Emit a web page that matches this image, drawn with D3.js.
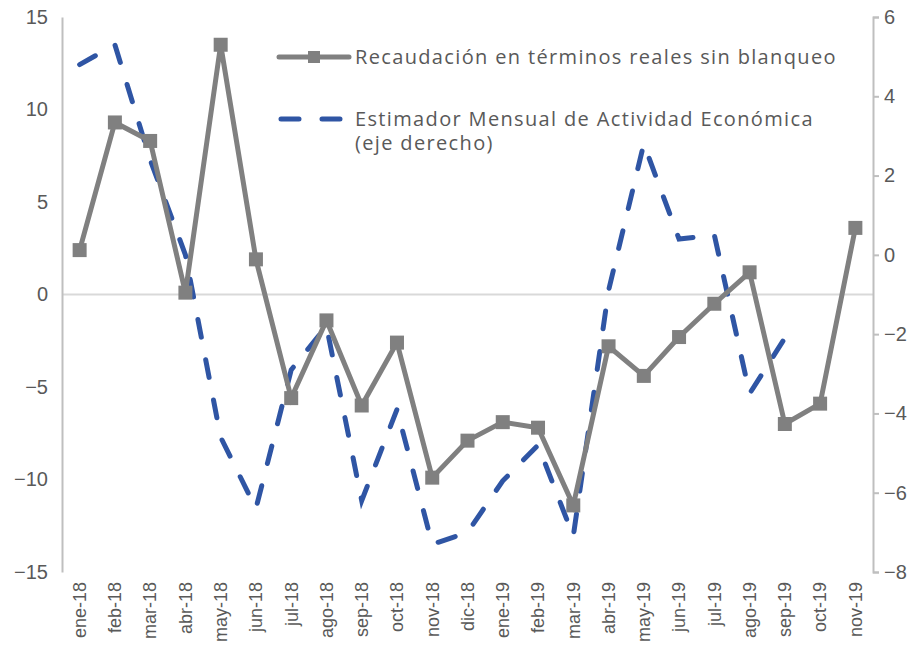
<!DOCTYPE html>
<html lang="es">
<head>
<meta charset="UTF-8">
<title>Recaudación vs EMAE</title>
<style>
body { margin: 0; background: #fff; }
#chart { font-family: "Open Sans", sans-serif; }
.tick text { fill: #595959; }
.legend text { font-size: 20px; fill: #595959; letter-spacing: 1.35px; }
</style>
<script src="https://d3js.org/d3.v7.min.js"></script>
</head>
<body>
<div id="chart"></div>
<script>
const months = ["ene-18","feb-18","mar-18","abr-18","may-18","jun-18","jul-18","ago-18","sep-18","oct-18","nov-18","dic-18",
                "ene-19","feb-19","mar-19","abr-19","may-19","jun-19","jul-19","ago-19","sep-19","oct-19","nov-19"];
// Recaudación en términos reales sin blanqueo (eje izquierdo)
const recaudacion = [2.4, 9.3, 8.3, 0.1, 13.5, 1.9, -5.6, -1.4, -6.0, -2.6, -9.9, -7.9,
                     -6.9, -7.2, -11.4, -2.8, -4.4, -2.3, -0.5, 1.2, -7.0, -5.9, 3.6];
// EMAE (eje derecho), sin dato para oct-19 y nov-19
const emae = [4.8, 5.3, 2.4, 0.0, -4.6, -6.4, -2.9, -1.8, -6.2, -3.9, -7.3, -7.0,
              -5.7, -4.8, -7.1, -0.9, 2.8, 0.4, 0.5, -3.5, -2.1, null, null];
const leftTicks = [-15, -10, -5, 0, 5, 10, 15];
const rightTicks = [-8, -6, -4, -2, 0, 2, 4, 6];

const W = 919, H = 662;
const margin = {top: 17, right: 46, bottom: 90, left: 62};
const width = W - margin.left - margin.right;
const height = H - margin.top - margin.bottom;

const svg = d3.select("#chart").append("svg")
    .attr("width", W)
    .attr("height", H)
    .append("g")
    .attr("transform", "translate(" + margin.left + "," + margin.top + ")");

const x = d3.scaleBand().domain(months).range([0, width]);
const yL = d3.scaleLinear().domain([-15, 15]).range([height, 0]);
const yR = d3.scaleLinear().domain([-8, 6]).range([height, 0]);
const cx = d => x(d) + x.bandwidth() / 2;

// zero line
svg.append("line")
    .attr("x1", 0).attr("x2", width)
    .attr("y1", yL(0)).attr("y2", yL(0))
    .attr("stroke", "#d9d9d9").attr("stroke-width", 2);

// left axis
const gl = svg.append("g")
    .call(d3.axisLeft(yL).tickValues(leftTicks).tickSize(0).tickPadding(14));
gl.select(".domain").attr("stroke", "#bfbfbf").attr("stroke-width", 2);
gl.selectAll("text").style("font-size", "20px");

// right axis
const gr = svg.append("g")
    .attr("transform", "translate(" + width + ",0)")
    .call(d3.axisRight(yR).tickValues(rightTicks).tickSize(6).tickSizeOuter(6).tickPadding(5));
gr.selectAll(".domain, line").attr("stroke", "#bfbfbf").attr("stroke-width", 2);
gr.selectAll("text").style("font-size", "20px");

// x axis labels
const gx = svg.append("g")
    .attr("transform", "translate(0," + height + ")")
    .call(d3.axisBottom(x).tickSize(0).tickPadding(0));
gx.select(".domain").remove();
gx.selectAll("text")
    .style("font-size", "18px")
    .attr("text-anchor", "end")
    .attr("transform", "rotate(-90)")
    .attr("x", -10)
    .attr("y", 0)
    .attr("dy", "0.35em");

// EMAE dashed line
const lineR = d3.line()
    .defined(d => d.v !== null)
    .x(d => cx(d.m))
    .y(d => yR(d.v));
svg.append("path")
    .datum(months.map((m, i) => ({m: m, v: emae[i]})))
    .attr("fill", "none")
    .attr("stroke", "#2f55a4")
    .attr("stroke-width", 5)
    .attr("stroke-linecap", "round")
    .attr("stroke-dasharray", "18,23")
    .attr("d", lineR);

// Recaudación line
const lineL = d3.line()
    .x(d => cx(d.m))
    .y(d => yL(d.v));
const recData = months.map((m, i) => ({m: m, v: recaudacion[i]}));
svg.append("path")
    .datum(recData)
    .attr("fill", "none")
    .attr("stroke", "#808080")
    .attr("stroke-width", 5)
    .attr("d", lineL);
svg.selectAll(".mk")
    .data(recData)
    .enter().append("rect")
    .attr("class", "mk")
    .attr("x", d => cx(d.m) - 7)
    .attr("y", d => yL(d.v) - 7)
    .attr("width", 14)
    .attr("height", 14)
    .attr("fill", "#808080");

// legend
const lg = svg.append("g").attr("class", "legend")
    .attr("transform", "translate(" + (279 - margin.left) + "," + (57 - margin.top) + ")");
lg.append("line").attr("x1", 0).attr("x2", 70).attr("y1", 0).attr("y2", 0)
    .attr("stroke", "#808080").attr("stroke-width", 5).attr("stroke-linecap", "round");
lg.append("rect").attr("x", 29).attr("y", -6).attr("width", 12).attr("height", 12).attr("fill", "#808080");
lg.append("text").attr("x", 76).attr("y", 0).attr("dy", "0.35em")
    .text("Recaudación en términos reales sin blanqueo");
lg.append("line").attr("x1", 2).attr("x2", 64).attr("y1", 62).attr("y2", 62)
    .attr("stroke", "#2f55a4").attr("stroke-width", 5).attr("stroke-linecap", "round")
    .attr("stroke-dasharray", "18,23");
const t2 = lg.append("text").attr("x", 76).attr("y", 62).attr("dy", "0.35em");
t2.append("tspan").text("Estimador Mensual de Actividad Económica");
t2.append("tspan").attr("x", 76).attr("dy", "1.2em").text("(eje derecho)");
</script>
</body>
</html>
